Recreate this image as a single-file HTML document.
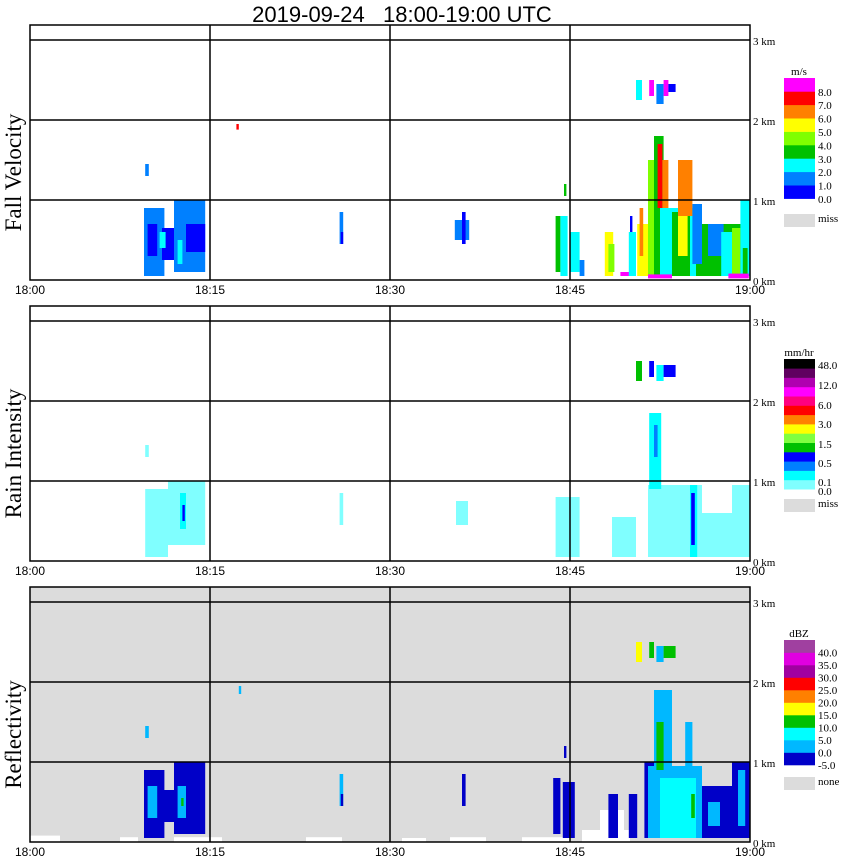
<!DOCTYPE html>
<html><head><meta charset="utf-8">
<style>
html,body{margin:0;padding:0;background:#fff;}
svg{display:block;font-family:"Liberation Sans",sans-serif;}
</style></head>
<body>
<svg id="chart" width="850" height="868" viewBox="0 0 850 868" xmlns="http://www.w3.org/2000/svg">
<text x="402" y="22" font-size="22" text-anchor="middle" fill="#000" style="white-space:pre" xml:space="preserve">2019-09-24   18:00-19:00 UTC</text>
</svg>
<script>
// ---- data ----
const timeTicks = ["18:00","18:15","18:30","18:45","19:00"];
const heightTicks = ["0 km","1 km","2 km","3 km"];
const panelTitles = ["Fall Velocity","Rain Intensity","Reflectivity"];

const fvLevels = [0,1,2,3,4,5,6,7,8];
const fvColors = ["#0000ff","#0080ff","#00ffff","#00c000","#80ff00","#ffff00","#ff8000","#ff0000","#ff00ff"];
const fvLabels = ["0.0","1.0","2.0","3.0","4.0","5.0","6.0","7.0","8.0"];

const riLevels = [0,0.1,0.25,0.5,1,1.5,2,3,4,6,8,12,24,48];
const riColors = ["#80ffff","#00ffff","#0080ff","#0000ff","#00c000","#80ff40","#ffff00","#ff8000","#ff0000","#ff0080","#ff00ff","#b000b0","#600060","#000000"];
const riLabels = ["0.0","0.1","0.5","1.5","3.0","6.0","12.0","48.0"];

const dbzLevels = [-5,0,5,10,15,20,25,30,35,40];
const dbzColors = ["#0000c8","#00b8ff","#00ffff","#00c000","#ffff00","#ff8000","#ff0000","#a000a0","#e000e0","#a040a0"];
const dbzLabels = ["-5.0","0.0","5.0","10.0","15.0","20.0","25.0","30.0","35.0","40.0"];

// echoes: [startMin, endMin, bottomKm, topKm, value]
const fvEchoes = [
[9.6,9.9,1.3,1.45,1.5],[9.5,11.2,0.05,0.9,1.5],[9.8,10.6,0.3,0.7,0.5],[11.0,12.4,0.25,0.65,0.5],
[12.0,14.6,0.1,1.0,1.5],[13.0,14.6,0.35,0.7,0.5],[10.8,11.3,0.4,0.6,2.5],[12.3,12.7,0.2,0.5,2.5],
[17.2,17.4,1.88,1.95,7.5],
[25.8,26.1,0.45,0.85,1.5],[25.9,26.1,0.45,0.6,0.5],
[35.4,36.6,0.5,0.75,1.5],[36.0,36.3,0.45,0.85,0.5],
[43.8,44.2,0.1,0.8,3.5],[44.2,44.8,0.05,0.8,2.5],[44.5,44.7,1.05,1.2,3.5],[45.0,45.8,0.1,0.6,2.5],[45.8,46.2,0.05,0.25,1.5],
[47.9,48.6,0.05,0.6,5.5],[48.2,48.7,0.1,0.45,4.5],[49.2,50.0,0.05,0.1,8.5],[49.9,50.5,0.05,0.6,2.5],[50.0,50.2,0.6,0.8,0.5],
[51.5,60,0.05,0.7,3.5],[53,55.5,0.05,0.9,2.5],
[50.6,51.5,0.05,0.7,5.5],[50.8,51.1,0.3,0.9,6.5],[51.5,52.2,0.05,1.5,4.5],[52.0,52.8,0.05,1.8,3.5],
[52.3,52.7,0.9,1.7,7.5],[52.7,53.2,0.9,1.5,6.5],[52.5,53.5,0.05,0.9,2.5],[53.5,55.0,0.05,0.85,3.5],
[54.0,54.8,0.3,0.9,5.5],[54.0,55.2,0.8,1.5,6.5],[55.2,56.0,0.2,0.95,1.5],[56.0,56.6,0.05,0.4,3.5],
[56.5,57.8,0.3,0.7,1.5],[57.6,58.5,0.05,0.6,2.5],[58.5,59.2,0.05,0.65,4.5],[59.2,60,0.05,1.0,2.5],
[59.4,59.8,0.05,0.4,3.5],[51.5,53.5,0.02,0.07,8.5],[58.2,59.9,0.02,0.08,8.5],
[50.5,51.0,2.25,2.5,2.5],[51.6,52.0,2.3,2.5,8.5],[52.2,52.8,2.2,2.45,1.5],[52.8,53.2,2.3,2.5,8.5],[53.2,53.8,2.35,2.45,0.5]
];
const riEchoes = [
[9.6,9.9,1.3,1.45,0.05],[9.6,11.5,0.05,0.9,0.05],[11.5,14.6,0.2,1.0,0.05],
[12.5,13.0,0.4,0.85,0.15],[12.7,12.9,0.5,0.7,0.7],
[25.8,26.1,0.45,0.85,0.05],[35.5,36.5,0.45,0.75,0.05],
[43.8,45.8,0.05,0.8,0.05],[48.5,50.5,0.05,0.55,0.05],
[51.5,53.5,0.05,0.95,0.05],[51.6,52.6,0.9,1.85,0.15],[52.0,52.3,1.3,1.7,0.3],
[53.5,56,0.05,0.95,0.05],[56,58.5,0.05,0.6,0.05],[58.5,60,0.05,0.95,0.05],
[55.0,55.6,0.05,0.95,0.15],[55.1,55.4,0.2,0.85,0.7],
[50.5,51.0,2.25,2.5,1.2],[51.6,52.0,2.3,2.5,0.7],[52.2,52.8,2.25,2.45,0.15],[52.8,53.8,2.3,2.45,0.7]
];
const dbzEchoes = [
[0,2.5,0,0.08,-99],[7.5,9.0,0,0.06,-99],[12,16,0,0.06,-99],[23,26,0,0.06,-99],[31,33,0,0.05,-99],[35,38,0,0.06,-99],[41,45,0,0.06,-99],[46,50,0,0.15,-99],[47.5,49.5,0.1,0.4,-99],
[9.6,9.9,1.3,1.45,2],[9.5,11.2,0.05,0.9,-2],[9.8,10.6,0.3,0.7,2],[11.0,12.4,0.25,0.65,-2],[12.0,14.6,0.1,1.0,-2],[12.3,13.0,0.3,0.7,2],[12.6,12.8,0.45,0.55,12],
[17.4,17.6,1.85,1.95,2],[25.8,26.1,0.45,0.85,2],[25.9,26.1,0.45,0.6,-2],[36.0,36.3,0.45,0.85,-2],
[43.6,44.2,0.1,0.8,-2],[44.4,45.4,0.05,0.75,-2],[44.5,44.7,1.05,1.2,-2],[48.2,49.0,0.05,0.6,-2],[49.9,50.6,0.05,0.6,-2],
[51.2,52.0,0.05,1.0,-2],[51.5,56,0.05,0.95,2],[52.0,53.5,0.1,1.9,2],[52.2,52.8,0.9,1.5,12],[52.5,55.5,0.05,0.8,7],
[54.6,55.2,0.8,1.5,2],[55.1,55.4,0.3,0.6,12],[56,58.5,0.05,0.7,-2],[56.5,57.5,0.2,0.5,2],[58.5,60,0.05,1.0,-2],[59.0,59.6,0.2,0.9,2],
[50.5,51.0,2.25,2.5,17],[51.6,52.0,2.3,2.5,12],[52.2,52.8,2.25,2.45,2],[52.8,53.8,2.3,2.45,12]
];

// ---- drawing ----
const NS="http://www.w3.org/2000/svg";
const svg=document.getElementById('chart');
const X0=30, PXMIN=12, PXKM=80;
const panelBottoms=[280,561,842];
function xScale(m){return X0+m*PXMIN;}
function yScale(p,km){return panelBottoms[p]-km*PXKM;}
function mk(tag,attrs){const e=document.createElementNS(NS,tag);for(const k in attrs)e.setAttribute(k,attrs[k]);return e;}
function colorFor(v,levels,colors){if(v===-99)return "#ffffff";let c=colors[0];for(let i=0;i<levels.length;i++){if(v>=levels[i])c=colors[i];}return c;}

const echoSets=[fvEchoes,riEchoes,dbzEchoes];
const levelSets=[fvLevels,riLevels,dbzLevels];
const colorSets=[fvColors,riColors,dbzColors];
const bgs=["#ffffff","#ffffff","#dcdcdc"];

for(let p=0;p<3;p++){
  const top=panelBottoms[p]-255;
  const g=mk('g',{});
  
  
  svg.appendChild(g);
  g.appendChild(mk('rect',{x:X0,y:top,width:720,height:255,fill:bgs[p]}));
  for(const e of echoSets[p]){
    const r=mk('rect',{x:xScale(e[0]),y:yScale(p,e[3]),width:xScale(e[1])-xScale(e[0]),height:yScale(p,e[2])-yScale(p,e[3]),fill:colorFor(e[4],levelSets[p],colorSets[p])});
    
    
    g.appendChild(r);
  }
  for(let k=1;k<=3;k++){g.appendChild(mk('line',{x1:X0,x2:750,y1:yScale(p,k),y2:yScale(p,k),stroke:'#000','stroke-width':1.5}));}
  for(let i=1;i<4;i++){g.appendChild(mk('line',{x1:xScale(i*15),x2:xScale(i*15),y1:top,y2:panelBottoms[p],stroke:'#000','stroke-width':1.5}));}
  g.appendChild(mk('rect',{x:X0,y:top,width:720,height:255,fill:'none',stroke:'#000','stroke-width':1.5}));
  heightTicks.forEach((t,k)=>{
    const tx=mk('text',{x:753,y:yScale(p,k)+5,'font-size':11,'font-family':'Liberation Serif, serif'});
    tx.textContent=t;
    
    
    g.appendChild(tx);
  });
  timeTicks.forEach((t,i)=>{
    const tx=mk('text',{x:xScale(i*15),y:panelBottoms[p]+14,'font-size':12,'text-anchor':'middle'});
    tx.textContent=t;
    
    
    g.appendChild(tx);
  });
  const cy=(top+panelBottoms[p])/2+20;
  const yt=mk('text',{x:0,y:0,'font-size':23,'font-family':'Liberation Serif, serif','text-anchor':'middle',transform:`translate(21,${cy}) rotate(-90)`});
  yt.textContent=panelTitles[p];
  
  
  g.appendChild(yt);
}

function legend(colors,boxTop,boxH,labels,labelYs,unit,missText,missY){
  const g=mk('g',{});
  
  
  svg.appendChild(g);
  const n=colors.length;
  for(let i=0;i<n;i++){
    g.appendChild(mk('rect',{x:784,y:boxTop+(n-1-i)*boxH,width:31,height:boxH+0.3,fill:colors[i]}));
  }
  const u=mk('text',{x:799,y:boxTop-3,'font-size':11,'font-family':'Liberation Serif, serif','text-anchor':'middle'});
  u.textContent=unit;g.appendChild(u);
  labels.forEach((l,i)=>{const t=mk('text',{x:818,y:labelYs[i],'font-size':11,'font-family':'Liberation Serif, serif'});t.textContent=l;g.appendChild(t);});
  g.appendChild(mk('rect',{x:784,y:missY,width:31,height:13,fill:'#dcdcdc'}));
  const m=mk('text',{x:818,y:missY+8,'font-size':11,'font-family':'Liberation Serif, serif'});m.textContent=missText;g.appendChild(m);
}
legend(fvColors,78,13.4,fvLabels,fvLabels.map((_,i)=>203-i*13.4),"m/s","miss",214);
legend(riColors,359,9.3,riLabels,[495,486,467,448,428,409,389,369],"mm/hr","miss",499);
legend(dbzColors,640,12.5,dbzLabels,dbzLabels.map((_,i)=>769-i*12.5),"dBZ","none",777);
</script>
</body></html>
